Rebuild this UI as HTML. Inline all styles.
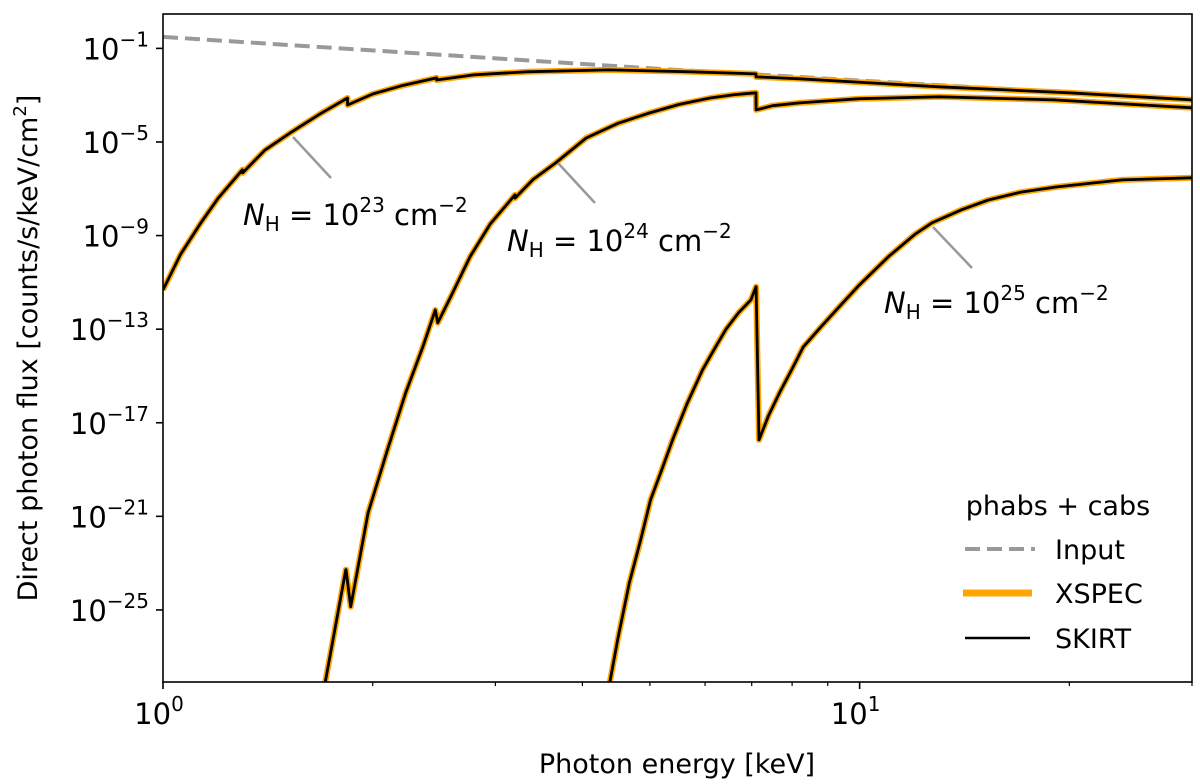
<!DOCTYPE html>
<html><head><meta charset="utf-8"><style>
html,body{margin:0;padding:0;background:#fff;}
svg{display:block;font-family:"DejaVu Sans","Liberation Sans",sans-serif;}
</style></head><body>
<svg id="chart" width="1200" height="784" viewBox="0 0 1200 784" xmlns="http://www.w3.org/2000/svg">
<defs><clipPath id="clip"><rect x="163" y="14" width="1029" height="668"/></clipPath></defs>
<g id="marks" clip-path="url(#clip)"></g>
<g id="axes"></g>
</svg>
<script>
// ---- data (energy in keV, log10 flux) ----
const inputE = [1, 5, 30];
const inputLogF = [-0.51, -1.85, -3.2];
const nh23E = [1.0,1.06,1.133,1.2,1.30,1.301,1.4,1.53,1.68,1.84,1.841,2.0,2.2,2.47,2.471,2.8,3.33,4.36,5.72,7.1,7.101,8.2,13,20,30];
const nh23LogF = [-11.32,-9.8,-8.46,-7.4,-6.19,-6.32,-5.35,-4.57,-3.8,-3.12,-3.42,-2.95,-2.6,-2.26,-2.35,-2.13,-2.0,-1.92,-2.0,-2.09,-2.22,-2.3,-2.64,-2.9,-3.2];
const nh24E = [1.71,1.83,1.831,1.86,1.97,2.10,2.23,2.36,2.46,2.48,2.59,2.76,2.95,3.2,3.201,3.4,3.66,4.05,4.5,4.99,5.5,6.1,6.6,7.1,7.101,7.5,8.2,10,13,19,30];
const nh24LogF = [-28.07,-23.28,-23.28,-24.86,-20.85,-18.15,-15.73,-13.76,-12.18,-12.73,-11.6,-9.9,-8.5,-7.26,-7.4,-6.6,-5.9,-4.83,-4.2,-3.76,-3.4,-3.12,-2.98,-2.9,-3.63,-3.45,-3.33,-3.15,-3.07,-3.2,-3.54];
const nh25E = [4.38,4.5,4.67,4.85,5.01,5.2,5.39,5.65,5.95,6.2,6.43,6.7,6.98,7.1,7.101,7.17,7.4,7.67,8.0,8.3,8.8,9.35,10,11,12,12.7,14,15.3,17,19.2,23.8,30];
const nh25LogF = [-28.07,-26.2,-23.85,-22,-20.3,-19,-17.73,-16.2,-14.74,-13.8,-13.0,-12.3,-11.75,-11.19,-11.19,-17.73,-16.7,-15.73,-14.7,-13.76,-12.9,-12.04,-11.1,-9.9,-8.95,-8.46,-7.9,-7.48,-7.15,-6.92,-6.62,-6.53];
const yTickExps = [-1,-5,-9,-13,-17,-21,-25];
const xMajorTicks = [1,10];
const xMajorLabels = ["0","1"];
const xMinorTicks = [2,3,4,5,6,7,8,9,20,30];

// ---- axes ----
const L=163,R=1192,T=14,B=682;
const xmin=0, xmax=Math.log10(30);
const ymin=-28.08, ymax=0.47;
const sx = e => L + (Math.log10(e)-xmin)/(xmax-xmin)*(R-L);
const sy = lf => B - (lf-ymin)/(ymax-ymin)*(B-T);
const NS="http://www.w3.org/2000/svg";
function mk(tag, attrs, parent){const el=document.createElementNS(NS,tag);for(const k in attrs)el.setAttribute(k,attrs[k]);parent.appendChild(el);return el;}
const marks=document.getElementById('marks'), axes=document.getElementById('axes');
function pathD(E,F){return E.map((e,i)=>(i?'L':'M')+sx(e).toFixed(1)+','+sy(F[i]).toFixed(1)).join('');}

const inp=mk('path',{d:pathD(inputE,inputLogF),fill:'none',stroke:'#999','stroke-width':4,'stroke-dasharray':'15,7'},marks);


const series=[['nh23',nh23E,nh23LogF],['nh24',nh24E,nh24LogF],['nh25',nh25E,nh25LogF]];
series.forEach(s=>{
  const o=mk('path',{d:pathD(s[1],s[2]),fill:'none',stroke:'#FFA500','stroke-width':6,'stroke-linejoin':'round'},marks);
  
  
  const k=mk('path',{d:pathD(s[1],s[2]),fill:'none',stroke:'#000','stroke-width':2.8,'stroke-linejoin':'round'},marks);
  
  
});

const fr=mk('rect',{x:L,y:T,width:R-L,height:B-T,fill:'none',stroke:'#000','stroke-width':1.6},axes);


yTickExps.forEach(ex=>{
  const y=sy(ex);
  mk('line',{x1:L-7,x2:L,y1:y,y2:y,stroke:'#000','stroke-width':1.6},axes);
  const t=mk('text',{x:L-14,y:y+11,'text-anchor':'end','font-size':29,fill:'#000'},axes);
  
  
  t.innerHTML='10<tspan dy="-13" font-size="20">\u2212'+Math.abs(ex)+'</tspan>';
});
xMajorTicks.forEach((v,i)=>{
  const x=sx(v);
  mk('line',{x1:x,x2:x,y1:B,y2:B+7,stroke:'#000','stroke-width':1.6},axes);
  const t=mk('text',{x:x-4,y:B+42,'text-anchor':'middle','font-size':29,fill:'#000'},axes);
  
  
  t.innerHTML='10<tspan dy="-13" font-size="20">'+xMajorLabels[i]+'</tspan>';
});
xMinorTicks.forEach(v=>{const x=sx(v);mk('line',{x1:x,x2:x,y1:B,y2:B+4,stroke:'#000','stroke-width':1.2},axes);});
</script>
<svg style="position:absolute;left:0;top:0" width="1200" height="784">
<g font-family="DejaVu Sans, Liberation Sans, sans-serif" fill="#000">
<text x="677" y="773" text-anchor="middle" font-size="27">Photon energy [keV]</text>
<text transform="translate(37,348) rotate(-90)" text-anchor="middle" font-size="27">Direct photon flux [counts/s/keV/cm<tspan dy="-11" font-size="18">2</tspan><tspan dy="11">]</tspan></text>
<line x1="293" y1="137" x2="331" y2="178" stroke="#999" stroke-width="2.5"/>
<text x="243" y="225" font-size="29"><tspan font-style="italic">N</tspan><tspan font-size="20" dy="6">H</tspan><tspan dy="-6"> = 10</tspan><tspan font-size="20" dy="-13">23</tspan><tspan dy="13"> cm</tspan><tspan font-size="20" dy="-13">−2</tspan></text>
<line x1="558" y1="163" x2="595" y2="203" stroke="#999" stroke-width="2.5"/>
<text x="507" y="251" font-size="29"><tspan font-style="italic">N</tspan><tspan font-size="20" dy="6">H</tspan><tspan dy="-6"> = 10</tspan><tspan font-size="20" dy="-13">24</tspan><tspan dy="13"> cm</tspan><tspan font-size="20" dy="-13">−2</tspan></text>
<line x1="933" y1="227" x2="972" y2="268" stroke="#999" stroke-width="2.5"/>
<text x="884" y="313" font-size="29"><tspan font-style="italic">N</tspan><tspan font-size="20" dy="6">H</tspan><tspan dy="-6"> = 10</tspan><tspan font-size="20" dy="-13">25</tspan><tspan dy="13"> cm</tspan><tspan font-size="20" dy="-13">−2</tspan></text>
<g font-size="27">
<text x="1058" y="515" text-anchor="middle">phabs + cabs</text>
<line x1="965" y1="549" x2="1035" y2="549" stroke="#999" stroke-width="4" stroke-dasharray="15,7"/>
<text x="1055" y="559">Input</text>
<line x1="963" y1="593" x2="1032" y2="593" stroke="#FFA500" stroke-width="7"/>
<text x="1055" y="603">XSPEC</text>
<line x1="965" y1="638" x2="1030" y2="638" stroke="#000" stroke-width="2.5"/>
<text x="1055" y="648">SKIRT</text>
</g>
</g>
</svg>
</body></html>
